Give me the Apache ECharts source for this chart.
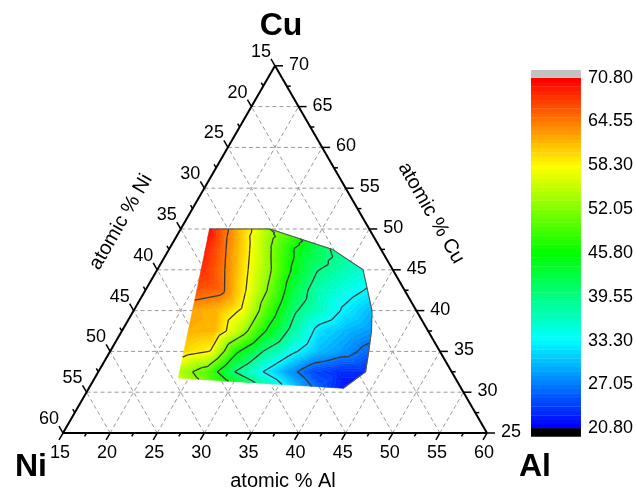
<!DOCTYPE html>
<html>
<head>
<meta charset="utf-8">
<script src="https://cdn.jsdelivr.net/npm/echarts@6/dist/echarts.min.js"></script>
<style>
html,body{margin:0;padding:0;background:#fff;}
#chart{width:636px;height:493px;}
</style>
</head>
<body>
<div id="chart"></div>
<script>
// ------------------------- DATA -------------------------
// ternary axis tick values (atomic %)
const alTicks = [15, 20, 25, 30, 35, 40, 45, 50, 55, 60];
const niTicks = [15, 20, 25, 30, 35, 40, 45, 50, 55, 60];
const cuTicks = [25, 30, 35, 40, 45, 50, 55, 60, 65, 70];
const alMinor = [17.5, 22.5, 27.5, 32.5, 37.5, 42.5, 47.5, 52.5, 57.5];
const niMinor = [17.5, 22.5, 27.5, 32.5, 37.5, 42.5, 47.5, 52.5, 57.5];
const cuMinor = [27.5, 32.5, 37.5, 42.5, 47.5, 52.5, 57.5, 62.5, 67.5];
// dashed grid lines
const gridAl = [20, 25, 30, 35, 40, 45, 50, 55];
const gridNi = [20, 25, 30, 35, 40, 45, 50, 55];
const gridCu = [30, 35, 40, 45, 50, 55, 60, 65];

// measured compositions: rows of samples (Cu and Al at row ends, samples evenly spaced)
const rowCuLeft  = [50, 47.5, 45, 42.5, 40, 37.5, 35, 32.5, 31.74];
const rowCuRight = [50, 47.5, 45, 42.5, 40, 37.5, 35, 32.5, 30.48];
const rowAlLeft  = [18.05, 18.86, 19.66, 20.46, 21.24, 22.04, 22.83, 23.63, 23.87];
const rowAlRight = [24.47, 32.35, 36.85, 38.57, 40.29, 41.49, 42.45, 43.36, 42.01];
// measured property values at those samples
const rowValues = [
  [70.0, 67.0, 65.0, 62.5, 60.5, 58.0, 55.0, 52.0],
  [69.0, 65.2, 60.5, 55.5, 50.0, 45.2, 42.0, 39.2],
  [68.5, 64.7, 58.5, 52.3, 45.0, 39.8, 37.5, 35.5],
  [66.5, 65.5, 58.4, 51.2, 42.5, 37.2, 35.0, 33.0],
  [62.5, 61.5, 57.5, 48.5, 40.0, 36.0, 32.5, 30.0],
  [62.0, 61.5, 54.5, 45.5, 38.0, 32.0, 30.0, 28.5],
  [60.0, 58.2, 46.5, 39.5, 34.5, 30.5, 28.5, 26.0],
  [54.0, 50.0, 40.0, 34.0, 29.0, 24.5, 23.0, 23.0],
  [56.0, 51.5, 46.5, 41.0, 35.5, 30.0, 25.5, 22.0]
];

// colour scale
const cbMin = 20.80;
const cbMax = 70.80;
const cbLabelStep = 6.25;
const nBands = 80;
const contourLevels = [27.05, 33.30, 39.55, 45.80, 52.05, 58.30, 64.55];

// ------------------------- HELPERS -------------------------
const S3 = Math.sqrt(3) / 2;
const AL0 = 15, CU0 = 25, SPAN = 45;
function tern(al, cu) {
  const a = (al - AL0) / SPAN, c = (cu - CU0) / SPAN;
  return [a + c / 2, c * S3];
}
const stops = [[0, [0, 0, 255]], [0.25, [0, 255, 255]], [0.5, [0, 255, 0]], [0.75, [255, 255, 0]], [1, [255, 0, 0]]];
function pal(t) {
  t = Math.max(0, Math.min(1, t));
  let i = 0;
  while (i < stops.length - 2 && t > stops[i + 1][0]) i++;
  const t0 = stops[i][0], c0 = stops[i][1], t1 = stops[i + 1][0], c1 = stops[i + 1][1];
  const f = (t - t0) / (t1 - t0);
  return 'rgb(' + c0.map((c, j) => Math.round(c + (c1[j] - c) * f)).join(',') + ')';
}
const bandStep = (cbMax - cbMin) / nBands;
const bandColors = [];
for (let i = 0; i < nBands; i++) bandColors.push(pal(i / (nBands - 1)));

// sample grid -> cartesian
const nCols = rowValues[0].length;
const pts = rowValues.map((vals, r) => vals.map((v, k) => {
  const f = k / (nCols - 1);
  const al = rowAlLeft[r] + (rowAlRight[r] - rowAlLeft[r]) * f;
  const cu = rowCuLeft[r] + (rowCuRight[r] - rowCuLeft[r]) * f;
  const p = tern(al, cu);
  return { x: p[0], y: p[1], v: v };
}));
const tris = [];
for (let r = 0; r < pts.length - 1; r++) {
  for (let k = 0; k < nCols - 1; k++) {
    const A = pts[r][k], B = pts[r][k + 1], C = pts[r + 1][k], D = pts[r + 1][k + 1];
    tris.push([A, B, D], [A, D, C]);
  }
}
function clip(poly, level, keepAbove) {
  const out = [];
  for (let i = 0; i < poly.length; i++) {
    const P = poly[i], Q = poly[(i + 1) % poly.length];
    const pin = keepAbove ? P.v >= level : P.v <= level;
    const qin = keepAbove ? Q.v >= level : Q.v <= level;
    if (pin) out.push(P);
    if (pin !== qin) {
      const f = (level - P.v) / (Q.v - P.v);
      out.push({ x: P.x + f * (Q.x - P.x), y: P.y + f * (Q.y - P.y), v: level });
    }
  }
  return out;
}
const bandPolys = [];
tris.forEach(t => {
  const vmin = Math.min(t[0].v, t[1].v, t[2].v), vmax = Math.max(t[0].v, t[1].v, t[2].v);
  for (let i = 0; i < nBands; i++) {
    const lo = i === 0 ? -Infinity : cbMin + i * bandStep;
    const hi = i === nBands - 1 ? Infinity : cbMin + (i + 1) * bandStep;
    if (hi < vmin || lo > vmax) continue;
    let poly = t;
    if (lo > -Infinity) poly = clip(poly, lo, true);
    if (poly.length >= 3 && hi < Infinity) poly = clip(poly, hi, false);
    if (poly.length >= 3) bandPolys.push({ pts: poly, band: i });
  }
});
const fillData = bandPolys.map((bp, i) => {
  let cx = 0, cy = 0;
  bp.pts.forEach(p => { cx += p.x; cy += p.y; });
  return [cx / bp.pts.length, cy / bp.pts.length, i];
});
const contourSegs = [];
tris.forEach(t => contourLevels.forEach(L => {
  const cr = [];
  for (let e = 0; e < 3; e++) {
    const P = t[e], Q = t[(e + 1) % 3];
    if ((P.v < L) !== (Q.v < L)) {
      const f = (L - P.v) / (Q.v - P.v);
      cr.push([P.x + f * (Q.x - P.x), P.y + f * (Q.y - P.y)]);
    }
  }
  if (cr.length === 2) contourSegs.push([cr[0][0], cr[0][1], cr[1][0], cr[1][1]]);
}));
// outline on top and right boundary of the measured region
const outlineSegs = [];
for (let k = 0; k < nCols - 1; k++) outlineSegs.push([pts[0][k].x, pts[0][k].y, pts[0][k + 1].x, pts[0][k + 1].y]);
for (let r = 0; r < pts.length - 1; r++) outlineSegs.push([pts[r][nCols - 1].x, pts[r][nCols - 1].y, pts[r + 1][nCols - 1].x, pts[r + 1][nCols - 1].y]);

// grid lines
const gridSegs = [];
gridCu.forEach(v => { const a = tern(AL0, v), b = tern(100 - 15 - v, v); gridSegs.push([a[0], a[1], b[0], b[1]]); });
gridAl.forEach(v => { const a = tern(v, CU0), b = tern(v, 100 - 15 - v); gridSegs.push([a[0], a[1], b[0], b[1]]); });
gridNi.forEach(v => { const a = tern(100 - CU0 - v, CU0), b = tern(AL0, 100 - AL0 - v); gridSegs.push([a[0], a[1], b[0], b[1]]); });
// frame
const frameSegs = [];
(function () {
  const pNi = tern(15, 25), pAl = tern(60, 25), pCu = tern(15, 70);
  frameSegs.push([pNi[0], pNi[1], pAl[0], pAl[1]], [pAl[0], pAl[1], pCu[0], pCu[1]], [pCu[0], pCu[1], pNi[0], pNi[1]]);
})();
// axis positions: 0 = Al (bottom), 1 = Cu (right), 2 = Ni (left)
function axisPoint(ax, v) {
  if (ax === 0) return tern(v, CU0);
  if (ax === 1) return tern(100 - 15 - v, v);
  return tern(AL0, 100 - AL0 - v);
}
const tickData = [], labelData = [];
[[alTicks, alMinor], [cuTicks, cuMinor], [niTicks, niMinor]].forEach((pair, ax) => {
  pair[0].forEach(v => { const p = axisPoint(ax, v); tickData.push([p[0], p[1], ax, 1]); labelData.push([p[0], p[1], ax, v]); });
  pair[1].forEach(v => { const p = axisPoint(ax, v); tickData.push([p[0], p[1], ax, 0]); });
});
const DIRS = [[-0.5, 0.866], [1, 0], [-0.5, -0.866]];

const colorbarData = [];
for (let i = 0; i < nBands; i++) colorbarData.push([0.5, (i + 0.5) * bandStep, i]);
colorbarData.push([0.5, cbMax - cbMin, -1]);
colorbarData.push([0.5, 0, -2]);

// ------------------------- CHART -------------------------
const FONT = '"Liberation Sans", Arial, sans-serif';
function segSeries(data, style, z) {
  return {
    type: 'custom', coordinateSystem: 'cartesian2d', xAxisIndex: 0, yAxisIndex: 0,
    z: z, silent: true, clip: false, animation: false,
    encode: { x: [0, 2], y: [1, 3] },
    data: data,
    renderItem: function (params, api) {
      const p1 = api.coord([api.value(0), api.value(1)]);
      const p2 = api.coord([api.value(2), api.value(3)]);
      return { type: 'line', shape: { x1: p1[0], y1: p1[1], x2: p2[0], y2: p2[1] }, style: Object.assign({ fill: null }, style) };
    }
  };
}

const chart = echarts.init(document.getElementById('chart'), null, { renderer: 'canvas' });
const option = {
  animation: false,
  backgroundColor: '#fff',
  grid: [
    { left: 63, top: 65.8, width: 424, height: 367.2 },
    { left: 531, top: 77.7, width: 50, height: 350.6 }
  ],
  xAxis: [
    { type: 'value', gridIndex: 0, min: 0, max: 1, show: false },
    { type: 'value', gridIndex: 1, min: 0, max: 1, show: false }
  ],
  yAxis: [
    { type: 'value', gridIndex: 0, min: 0, max: S3, show: false },
    {
      type: 'value', gridIndex: 1, min: 0, max: cbMax - cbMin, interval: cbLabelStep, position: 'right',
      axisLine: { show: false }, axisTick: { show: false }, splitLine: { show: false },
      axisLabel: {
        formatter: v => (v + cbMin).toFixed(2), fontSize: 18, color: '#000', fontFamily: FONT, margin: 7,
        showMinLabel: true, showMaxLabel: true
      }
    }
  ],
  graphic: [
    { type: 'text', x: 281, y: 26, style: { text: 'Cu', font: 'bold 32px ' + FONT, fill: '#000', align: 'center', verticalAlign: 'middle' } },
    { type: 'text', x: 31, y: 467, style: { text: 'Ni', font: 'bold 32px ' + FONT, fill: '#000', align: 'center', verticalAlign: 'middle' } },
    { type: 'text', x: 535, y: 467, style: { text: 'Al', font: 'bold 32px ' + FONT, fill: '#000', align: 'center', verticalAlign: 'middle' } },
    { type: 'text', x: 283, y: 481, style: { text: 'atomic % Al', font: '20px ' + FONT, fill: '#000', align: 'center', verticalAlign: 'middle' } },
    { type: 'text', x: 121, y: 222, rotation: Math.PI / 3, style: { text: 'atomic % Ni', font: '20px ' + FONT, fill: '#000', align: 'center', verticalAlign: 'middle' } },
    { type: 'text', x: 431, y: 213, rotation: -Math.PI / 3, style: { text: 'atomic % Cu', font: '20px ' + FONT, fill: '#000', align: 'center', verticalAlign: 'middle' } }
  ],
  series: [
    segSeries(gridSegs, { stroke: '#999', lineWidth: 1, lineDash: [4, 3] }, 1),
    {
      type: 'custom', coordinateSystem: 'cartesian2d', xAxisIndex: 0, yAxisIndex: 0,
      z: 2, silent: true, clip: false, animation: false,
      encode: { x: 0, y: 1 },
      data: fillData,
      renderItem: function (params, api) {
        const bp = bandPolys[api.value(2)];
        const col = bandColors[bp.band];
        return {
          type: 'polygon',
          shape: { points: bp.pts.map(p => api.coord([p.x, p.y])) },
          style: { fill: col, stroke: col, lineWidth: 0.6 }
        };
      }
    },
    segSeries(contourSegs, { stroke: '#383838', lineWidth: 1.3 }, 3),
    segSeries(outlineSegs, { stroke: '#555', lineWidth: 1.1 }, 3),
    segSeries(frameSegs, { stroke: '#000', lineWidth: 2 }, 4),
    {
      type: 'custom', coordinateSystem: 'cartesian2d', xAxisIndex: 0, yAxisIndex: 0,
      z: 4, silent: true, clip: false, animation: false,
      encode: { x: 0, y: 1 },
      data: tickData,
      renderItem: function (params, api) {
        const p = api.coord([api.value(0), api.value(1)]);
        const d = DIRS[api.value(2)];
        const len = api.value(3) ? 8 : 4;
        return { type: 'line', shape: { x1: p[0], y1: p[1], x2: p[0] + d[0] * len, y2: p[1] + d[1] * len }, style: { stroke: '#000', lineWidth: 1.5 } };
      }
    },
    {
      type: 'custom', coordinateSystem: 'cartesian2d', xAxisIndex: 0, yAxisIndex: 0,
      z: 5, silent: true, clip: false, animation: false,
      encode: { x: 0, y: 1 },
      data: labelData,
      renderItem: function (params, api) {
        const p = api.coord([api.value(0), api.value(1)]);
        const ax = api.value(2);
        let x, y, align;
        if (ax === 0) { x = p[0] - 3; y = p[1] + 20; align = 'center'; }
        else if (ax === 1) { x = p[0] + 14; y = p[1] - 1; align = 'left'; }
        else { x = p[0] - 4; y = p[1] - 14; align = 'right'; }
        return { type: 'text', x: x, y: y, style: { text: String(api.value(3)), font: '18px ' + FONT, fill: '#000', align: align, verticalAlign: 'middle' } };
      }
    },
    {
      type: 'custom', coordinateSystem: 'cartesian2d', xAxisIndex: 1, yAxisIndex: 1,
      z: 2, silent: true, clip: false, animation: false,
      encode: { x: 0, y: 1 },
      data: colorbarData,
      renderItem: function (params, api) {
        const i = api.value(2);
        const left = api.coord([0, 0])[0], right = api.coord([1, 0])[0];
        if (i === -1) {
          const top = api.coord([0, cbMax - cbMin])[1];
          return { type: 'rect', shape: { x: left, y: top - 7.7, width: right - left, height: 7.7 }, style: { fill: '#c3c3c3' } };
        }
        if (i === -2) {
          const bot = api.coord([0, 0])[1];
          return { type: 'rect', shape: { x: left, y: bot, width: right - left, height: 8.4 }, style: { fill: '#000' } };
        }
        const y0 = api.coord([0, i * bandStep])[1], y1 = api.coord([0, (i + 1) * bandStep])[1];
        return { type: 'rect', shape: { x: left, y: y1, width: right - left, height: y0 - y1 + 0.4 }, style: { fill: bandColors[i] } };
      }
    }
  ]
};
chart.setOption(option);
</script>
</body>
</html>
